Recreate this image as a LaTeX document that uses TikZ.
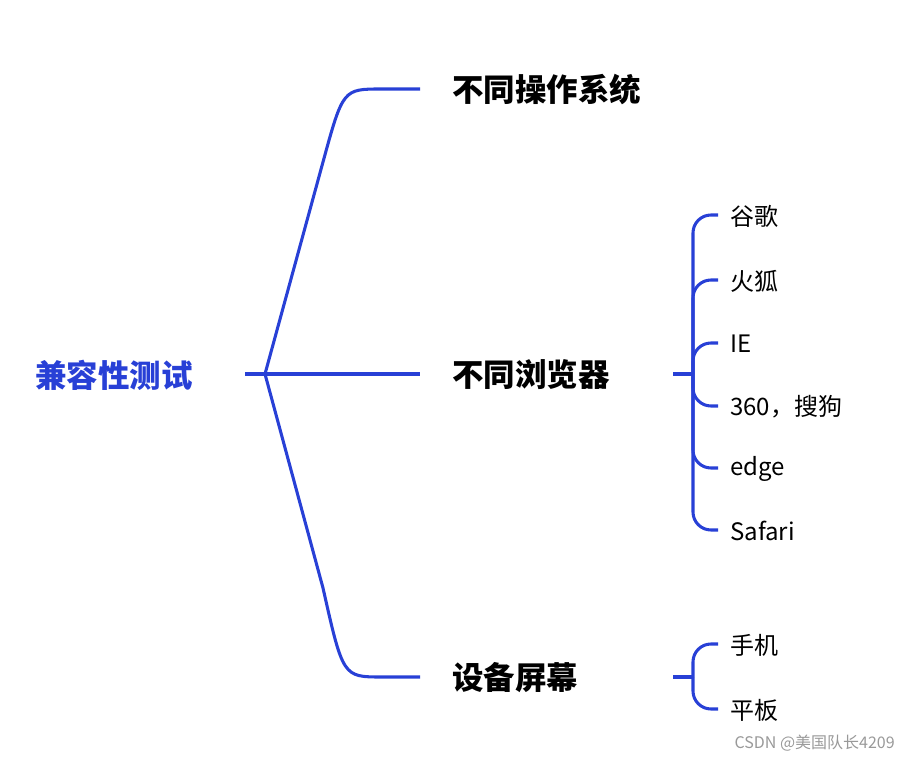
\documentclass[tikz,border=0pt]{standalone}
\usepackage{fontspec}
\newfontfamily\cjk{Noto Sans CJK SC}
\definecolor{mblue}{RGB}{40,64,214}
\begin{document}
\begin{tikzpicture}[x=0.75pt,y=-0.75pt,
  link/.style={draw=mblue, line width=2.3pt, line join=round},
  rootlbl/.style={font=\cjk\bfseries\fontsize{23.6}{26}\selectfont, text=mblue, inner sep=0pt},
  mainlbl/.style={font=\cjk\bfseries\fontsize{23.6}{26}\selectfont, text=black, anchor=west, inner xsep=24pt, inner ysep=0pt},
  leaflbl/.style={font=\cjk\fontsize{18}{20}\selectfont, text=black, anchor=west, inner xsep=9pt, inner ysep=0pt},
  wmark/.style={font=\cjk\fontsize{12}{14}\selectfont, text=black!40, anchor=east, inner sep=0pt}]
\useasboundingbox (0,0) rectangle (901,759);

% root
\node[rootlbl] (root) at (114,375) {兼容性测试};
\coordinate (rs) at (245,374);
\coordinate (rj) at (265,374);

% main branches
\node[mainlbl] (os) at (420,90) {不同操作系统};
\node[mainlbl] (br) at (420,375) {不同浏览器};
\node[mainlbl] (dev) at (420,678) {设备屏幕};

\draw[link] (rs) -- (rs -| br.west);
\draw[link] (rj) -- (323,162) .. controls (343,89) .. (382,89) -- (420,89);
\draw[link] (rj) -- (323,588) .. controls (343,677) .. (382,677) -- (420,677);

% browser leaves
\coordinate (bs) at (673,374);
\coordinate (bj) at (693,374);
\node[leaflbl] (b1) at (718,216) {谷歌};
\node[leaflbl] (b2) at (718,281) {火狐};
\node[leaflbl] (b3) at (718,344) {IE};
\node[leaflbl] (b4) at (718,407) {360，搜狗};
\node[leaflbl] (b5) at (718,469) {edge};
\node[leaflbl] (b6) at (718,531) {Safari};
\draw[link] (bs) -- (bj);
\foreach \n/\yy in {b1/215,b2/280,b3/343,b4/406,b5/468,b6/530}
  \draw[link, rounded corners=13.5pt] (bj) |- (\n.west |- 0,\yy);

% device leaves
\coordinate (ds) at (673,677);
\coordinate (dj) at (693,677);
\node[leaflbl] (d1) at (718,645) {手机};
\node[leaflbl] (d2) at (718,710) {平板};
\draw[link] (ds) -- (dj);
\foreach \n/\yy in {d1/644,d2/709}
  \draw[link, rounded corners=13.5pt] (dj) |- (\n.west |- 0,\yy);

% watermark
\node[wmark] (wm) at (895,743) {CSDN @美国队长4209};
\end{tikzpicture}
\end{document}
